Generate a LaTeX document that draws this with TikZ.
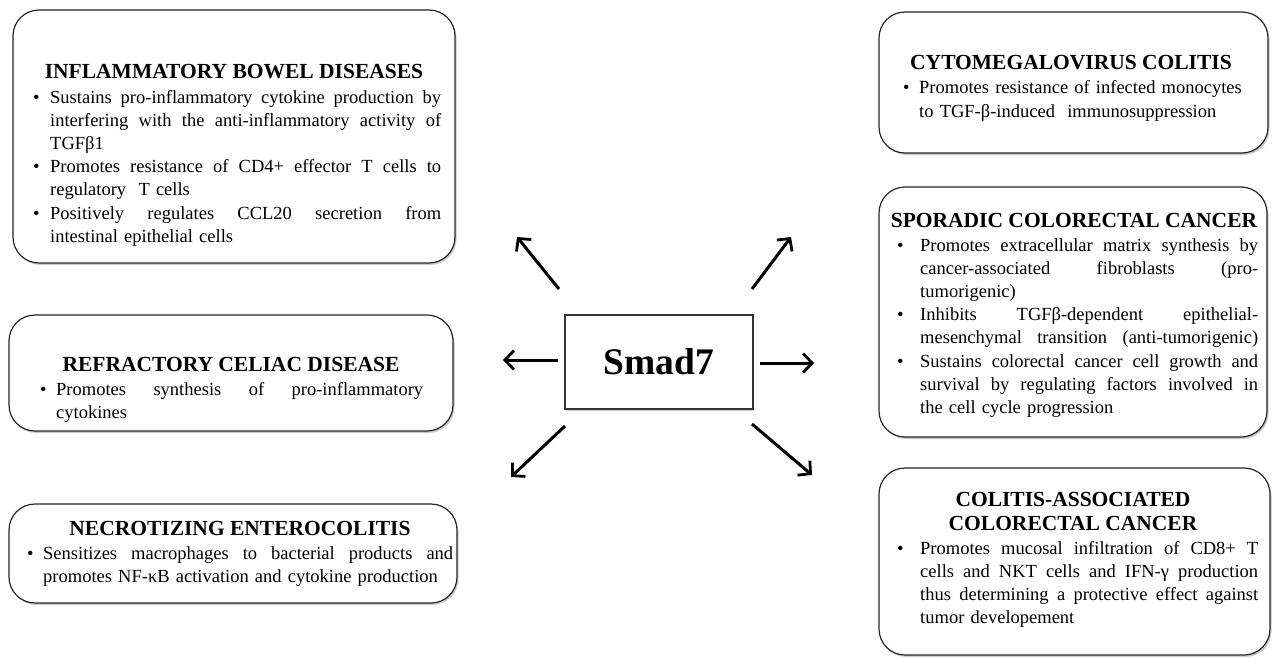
\documentclass[tikz,border=0pt]{standalone}
\usepackage{fontspec}
\setmainfont{Liberation Serif}
\usetikzlibrary{arrows.meta,shadows}
\newlength\bw
\newcommand\J[1]{\hbox to\bw{\spaceskip=\fontdimen2\font plus 1fil\relax #1}}
\newcommand\R[1]{\hbox to\bw{#1\hfil}}
\newcommand\B[1]{\llap{\makebox[#1][l]{•}}}
\begin{document}
\begin{tikzpicture}[x=1pt,y=-1pt,
  box/.style={draw=black!85,line width=1.2pt,rounded corners=26pt,fill=white,
    drop shadow={shadow xshift=1.5pt,shadow yshift=-2pt,opacity=0.35,fill=black!60}},
  title/.style={font=\fontsize{21.5}{24}\selectfont\bfseries,anchor=base,inner sep=0pt},
  body/.style={font=\fontsize{18.5}{23.2}\selectfont,anchor=base west,inner sep=0pt,text width=#1},
  arr/.style={line width=3pt,-{Straight Barb[length=9pt,width=19pt,line width=2.8pt]}},
  ]
\useasboundingbox (0,0) rectangle (1273,658);

% Boxes
\draw[box] (13,10) rectangle (455,263);
\draw[box] (9,315) rectangle (453,431);
\draw[box] (9,504) rectangle (457,603);
\draw[box] (879,12) rectangle (1268,153);
\draw[box] (879,187) rectangle (1267,437);
\draw[box] (879,468) rectangle (1270,655);
\node[draw=black!80,line width=1.2pt,fill=white,minimum width=188pt,minimum height=94pt,
  drop shadow={shadow xshift=1pt,shadow yshift=-1.5pt,opacity=0.3,fill=black!60},
  font=\fontsize{37.5}{40}\selectfont\bfseries] (smad) at (659,362) {Smad7};

% IBD
\node[title] (ibdt) at (234,79) {INFLAMMATORY BOWEL DISEASES};
\node[body=391pt] (ibdb) at (50,103) {\setlength\bw{391pt}%
\J{\B{17pt}Sustains pro-inflammatory cytokine production by}
\J{interfering with the anti-inflammatory activity of}
\R{TGFβ1}
\J{\B{17pt}Promotes resistance of CD4+ effector T cells to}
\R{regulatory\ \ T cells}
\J{\B{17pt}Positively regulates CCL20 secretion from}
\R{intestinal epithelial cells}};

% Refractory
\node[title] (rcdt) at (231,371) {REFRACTORY CELIAC DISEASE};
\node[body=367pt] (rcdb) at (56,395) {\setlength\bw{367pt}%
\J{\B{16pt}Promotes synthesis of pro-inflammatory}
\R{cytokines}};

% Necrotizing
\node[title] (nect) at (240,535) {NECROTIZING ENTEROCOLITIS};
\node[body=410pt] (necb) at (43,559) {\setlength\bw{410pt}%
\J{\B{16pt}Sensitizes macrophages to bacterial products and}
\R{promotes NF-κB activation\ and cytokine\ production}};

% Cytomegalovirus
\node[title] (cmvt) at (1071,70) {CYTOMEGALOVIRUS COLITIS};
\node[body=330pt] (cmvb) at (919,94) {\setlength\bw{330pt}%
\R{\B{16pt}Promotes resistance of infected monocytes}
\R{to TGF-β-induced\ \ immunosuppression}};

% Sporadic
\node[title] (scct) at (1074,227) {SPORADIC COLORECTAL CANCER};
\node[body=338pt] (sccb) at (920,251) {\setlength\bw{338pt}%
\J{\B{23pt}Promotes extracellular matrix synthesis by}
\J{cancer-associated fibroblasts (pro-}
\R{tumorigenic)}
\J{\B{23pt}Inhibits TGFβ-dependent epithelial-}
\J{mesenchymal transition (anti-tumorigenic)}
\J{\B{23pt}Sustains colorectal cancer cell growth and}
\J{survival by regulating factors involved in}
\R{the cell cycle progression}};

% Colitis-associated
\node[title] (cact) at (1073,506) {COLITIS-ASSOCIATED};
\node[title] (cact2) at (1073,530) {COLORECTAL CANCER};
\node[body=338pt] (cacb) at (920,554) {\setlength\bw{338pt}%
\J{\B{23pt}Promotes mucosal infiltration of CD8+ T}
\J{cells and NKT cells and IFN-γ production}
\J{thus determining a protective effect against}
\R{tumor developement}};

% Arrows
\coordinate (a1s) at (559,289); \coordinate (a1e) at (517,237);
\coordinate (a2s) at (752,289); \coordinate (a2e) at (791,237);
\coordinate (a3s) at (558,360); \coordinate (a3e) at (503,360);
\coordinate (a4s) at (760,363); \coordinate (a4e) at (814,363);
\coordinate (a5s) at (565,426); \coordinate (a5e) at (511,477);
\coordinate (a6s) at (752,424); \coordinate (a6e) at (812,475);
\foreach \i in {1,...,6} \draw[arr] (a\i s) -- (a\i e);
\end{tikzpicture}
\end{document}
